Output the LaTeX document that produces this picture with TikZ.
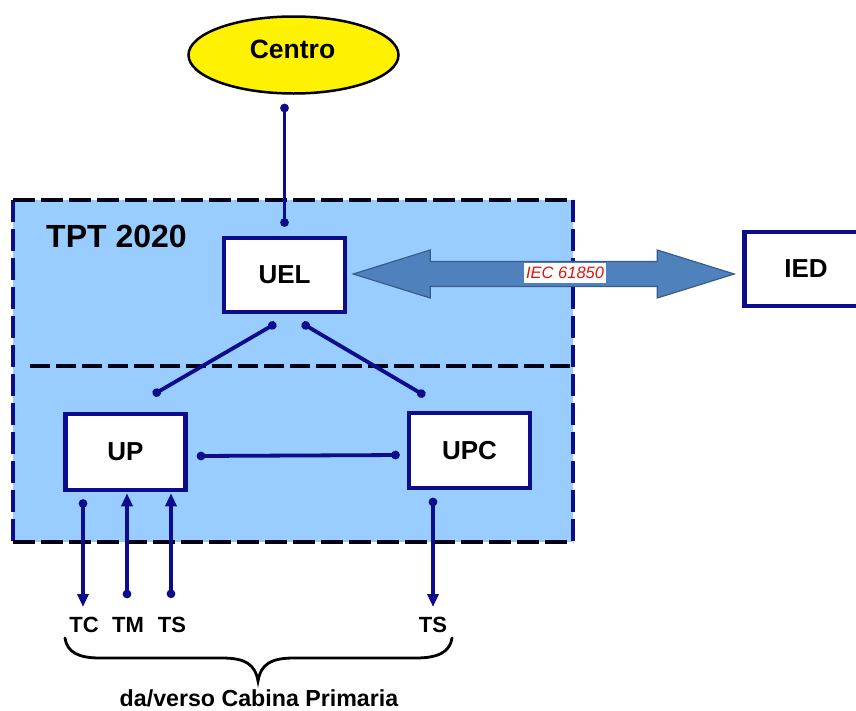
\documentclass[tikz,border=0pt]{standalone}
\usepackage{fontspec}
\setmainfont{Liberation Sans}
\usetikzlibrary{shapes.geometric,arrows.meta,calc}
\definecolor{navyc}{RGB}{12,12,140}
\definecolor{lightb}{RGB}{153,204,255}
\definecolor{arrowf}{RGB}{79,129,189}
\definecolor{arrowd}{RGB}{56,93,138}
\definecolor{iecred}{RGB}{225,20,20}
\tikzset{
  unitbox/.style={draw=navyc, line width=4.5pt, fill=white, inner sep=0pt,
    font=\fontsize{26}{30}\selectfont\bfseries},
  conn/.style={draw=navyc, line width=3.8pt, {Circle[length=8.5pt]}-{Circle[length=8.5pt]}},
  dotarrow/.style={draw=navyc, line width=3.8pt, {Circle[length=8.5pt]}-{Triangle[length=13pt,width=11pt]}},
  lbl/.style={inner sep=0pt, font=\fontsize{22}{26}\selectfont\bfseries},
  vdash/.style={draw=navyc, line width=3.5pt, dash pattern=on 22pt off 7pt},
  hdash/.style={draw=black!85!navyc, line width=3.5pt, dash pattern=on 22pt off 6pt},
}
\begin{document}
\begin{tikzpicture}[x=1pt,y=-1pt]
\clip (0,0) rectangle (856,710);
\fill[white] (0,0) rectangle (856,710);
% outer region
\fill[lightb] (13,200) rectangle (573,542);
\draw[vdash] (13,200) -- (13,542);
\draw[vdash] (573,200) -- (573,542);
\draw[hdash] (13,200) -- (573,200);
\draw[hdash] (13,542) -- (573,542);
\draw[hdash, dash pattern=on 20pt off 6pt] (30,366) -- (573,366);
\node[lbl, font=\fontsize{32}{36}\selectfont\bfseries, anchor=base west] (tpt) at (46,247) {TPT 2020};
% nodes
\node[ellipse, draw=black, line width=2.5pt, fill=yellow, minimum width=210pt, minimum height=77pt, inner sep=0pt] (centro) at (293.5,55) {};
\node[font=\fontsize{26.5}{30}\selectfont\bfseries, inner sep=0pt] (centrotxt) at ($(centro.center)+(-1,-6)$) {Centro};
\node[unitbox, minimum width=121pt, minimum height=74pt] (uel) at (284.5,275) {UEL};
\node[unitbox, minimum width=120pt, minimum height=76pt] (up) at (125.5,452) {UP};
\node[unitbox, minimum width=121pt, minimum height=75pt] (upc) at (469.5,450.5) {UPC};
\node[unitbox, minimum width=123pt, minimum height=74pt] (ied) at (806,269) {IED};
% big double arrow
\coordinate (L) at ($(uel.east)+(6,-1)$);
\coordinate (R) at ($(ied.west |- L)+(-8,0)$);
\draw[fill=arrowf, draw=arrowd, line width=1.2pt, line join=miter]
  (L) -- ($(L)+(77,-24)$) -- ($(L)+(77,-12.5)$) -- ($(R)+(-77,-12.5)$) -- ($(R)+(-77,-24)$)
  -- (R) -- ($(R)+(-77,24)$) -- ($(R)+(-77,12.5)$) -- ($(L)+(77,12.5)$) -- ($(L)+(77,24)$) -- cycle;
\node[fill=white, text=iecred, inner xsep=2pt, inner ysep=0pt, minimum height=20pt,
  font=\fontsize{16.5}{19}\selectfont\itshape] (iec) at ($(L)!0.556!(R)+(0,-1)$) {IEC 61850};
% connectors
\draw[conn] ($(uel.north |- centro.south)+(0,9)$) -- ($(uel.north)+(0,-9)$);
\draw[conn] ($(uel.south)+(-8.5,9)$) -- ($(up.north)+(27.5,-17)$);
\draw[conn] ($(uel.south)+(17.5,9)$) -- ($(upc.north)+(-44.5,-15)$);
\draw[conn] ($(up.east)+(9,4)$) -- ($(upc.west)+(-7,4.5)$);
% bottom labels
\node[lbl] (tc) at (84,625) {TC};
\node[lbl] (tm) at (128,625) {TM};
\node[lbl] (ts1) at (172,625) {TS};
\node[lbl] (ts2) at (433,625) {TS};
\draw[dotarrow] ($(up.south)+(-42.5,7)$) -- ($(tc.north -| up.south)+(-42.5,-10)$);
\draw[dotarrow] ($(tm.north -| up.south)+(1.5,-19)$) -- ($(up.south)+(1.5,1)$);
\draw[dotarrow] ($(ts1.north -| up.south)+(45.5,-19)$) -- ($(up.south)+(45.5,1)$);
\draw[dotarrow] ($(upc.south)+(-36.5,7.5)$) -- ($(ts2.north -| upc.south)+(-36.5,-10)$);
% brace
\draw[black, line width=2.8pt, line cap=round]
  (65,638) .. controls (67,652) and (78,658) .. (100,658)
  -- (222,658) .. controls (245,658) and (255,664) .. (258,681)
  .. controls (261,664) and (271,658) .. (294,658)
  -- (416,658) .. controls (438,658) and (450,652) .. (452,638);
\node[lbl, font=\fontsize{23.2}{26}\selectfont\bfseries] (cabina) at (259,698) {da/verso Cabina Primaria};
\end{tikzpicture}
\end{document}
